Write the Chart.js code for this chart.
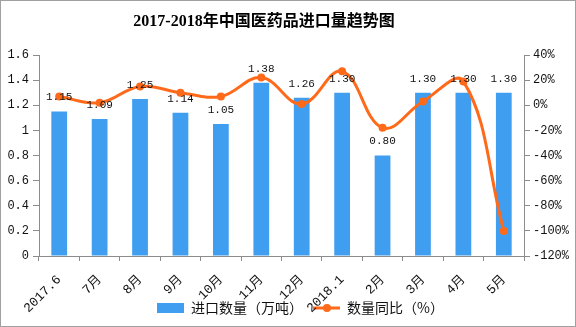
<!DOCTYPE html>
<html>
<head>
<meta charset="utf-8">
<script src="https://cdn.jsdelivr.net/npm/chart.js@4/dist/chart.umd.min.js"></script>
<style>
  html, body { margin: 0; padding: 0; background: #fff; }
  #wrap { width: 576px; height: 327px; }
</style>
</head>
<body>
<div id="wrap"><canvas id="chart"></canvas></div>
<script>
// 月份
const months = ['2017.6', '7月', '8月', '9月', '10月', '11月', '12月', '2018.1', '2月', '3月', '4月', '5月'];
// 进口数量（万吨）
const importVolume = [1.15, 1.09, 1.25, 1.14, 1.05, 1.38, 1.26, 1.30, 0.80, 1.30, 1.30, 1.30];
// 数量同比（%）
const yoyChange = [7, 2, 15, 10, 7, 22, 1, 27, -18, 3, 19, -100];

const leftAxis = { min: 0, max: 1.6, step: 0.2 };
const rightAxis = { min: -120, max: 40, step: 20 };

const blue = '#409ef0';
const orange = '#ff6a1a';
const axisGray = '#8c8c8c';
const monoFont = '"Liberation Mono", "Noto Sans CJK SC", monospace';
const cjkFont = '"Noto Sans CJK SC", sans-serif';

// 柱子上的数值
const barLabels = {
  id: 'barLabels',
  afterDatasetsDraw(chart) {
    const ctx = chart.ctx;
    const meta = chart.getDatasetMeta(0);
    ctx.save();
    ctx.font = '11px ' + monoFont;
    ctx.fillStyle = '#111';
    ctx.textAlign = 'center';
    ctx.textBaseline = 'middle';
    meta.data.forEach((bar, i) => {
      ctx.fillText(importVolume[i].toFixed(2), bar.x, bar.y - 14);
    });
    ctx.restore();
  }
};

// 外框 + 图例里折线的圆点 + 标题、图例的位置
const frame = {
  id: 'frame',
  afterLayout(chart) {
    chart.titleBlock.left = 0;
    chart.titleBlock.right = 528;
    // 斜着的月份标签会伸进图例那一行，不要被裁掉
    chart.scales.x.bottom = chart.height;
  },
  afterUpdate(chart) {
    const lg = chart.legend;
    if (!lg.legendHitBoxes.length) return;
    const d = 157 - lg.legendHitBoxes[0].left;
    lg.left += d;
    lg.right += d;
    lg.legendHitBoxes.forEach(h => { h.left += d; });
  },
  beforeDraw(chart) {
    const ctx = chart.ctx;
    ctx.save();
    ctx.fillStyle = '#fff';
    ctx.fillRect(0, 0, chart.width, chart.height);
    ctx.restore();
  },
  afterDraw(chart) {
    const ctx = chart.ctx;
    ctx.save();
    ctx.strokeStyle = '#a0a0a0';
    ctx.lineWidth = 1;
    ctx.strokeRect(0.5, 0.5, chart.width - 1, chart.height - 1);
    const box = chart.legend.legendHitBoxes[1];
    if (box) {
      ctx.fillStyle = orange;
      ctx.beginPath();
      ctx.arc(box.left + 14, box.top + box.height / 2, 4, 0, Math.PI * 2);
      ctx.fill();
    }
    ctx.restore();
  }
};

const ctx = document.getElementById('chart').getContext('2d');

new Chart(ctx, {
  type: 'bar',
  data: {
    labels: months,
    datasets: [
      {
        label: '进口数量（万吨）',
        data: importVolume,
        backgroundColor: blue,
        yAxisID: 'y',
        order: 1,
        barPercentage: 0.39,
        categoryPercentage: 1,
        pointStyle: 'rect'
      },
      {
        type: 'line',
        label: '数量同比（%）',
        data: yoyChange,
        borderColor: orange,
        backgroundColor: orange,
        borderWidth: 3,
        pointRadius: 4,
        pointBackgroundColor: orange,
        pointBorderWidth: 0,
        tension: 0.4,
        yAxisID: 'y1',
        order: 0
      }
    ]
  },
  options: {
    responsive: true,
    maintainAspectRatio: false,
    animation: false,
    layout: {
      padding: { top: 0, bottom: 2, left: 0, right: 0 }
    },
    plugins: {
      title: {
        display: true,
        text: '2017-2018年中国医药品进口量趋势图',
        color: '#000',
        font: { family: '"Liberation Serif", "Noto Sans CJK SC", serif', size: 16, weight: 'bold' },
        padding: { top: 12, bottom: 23.8 }
      },
      legend: {
        display: true,
        position: 'bottom',
        labels: {
          usePointStyle: true,
          pointStyleWidth: 27,
          boxHeight: 10,
          padding: 10,
          color: '#111',
          font: { family: cjkFont, size: 14 },
          sort: (a, b) => a.datasetIndex - b.datasetIndex,
          generateLabels(chart) {
            const items = Chart.defaults.plugins.legend.labels.generateLabels(chart);
            items.forEach(item => {
              if (item.datasetIndex === 1) {
                item.pointStyle = 'line';
                item.lineWidth = 3;
                item.strokeStyle = orange;
              } else {
                item.pointStyle = 'rect';
                item.lineWidth = 0;
              }
            });
            return items;
          }
        }
      },
      tooltip: {
        mode: 'index',
        intersect: false
      }
    },
    scales: {
      x: {
        grid: {
          display: true,
          drawOnChartArea: false,
          offset: true,
          tickLength: 5,
          color: axisGray
        },
        border: { color: axisGray },
        ticks: {
          autoSkip: false,
          maxRotation: 45,
          minRotation: 45,
          padding: 11,
          color: '#111',
          font: { family: monoFont, size: 13 }
        },
        afterFit(scale) {
          scale.height = 35;
        }
      },
      y: {
        position: 'left',
        min: leftAxis.min,
        max: leftAxis.max,
        grid: {
          drawOnChartArea: false,
          tickLength: 6,
          color: axisGray
        },
        border: { color: axisGray },
        ticks: {
          stepSize: leftAxis.step,
          padding: 4,
          color: '#111',
          font: { family: monoFont, size: 12 },
          callback: v => String(Number(v.toFixed(1)))
        },
        afterFit(scale) {
          scale.width = 39;
        }
      },
      y1: {
        position: 'right',
        min: rightAxis.min,
        max: rightAxis.max,
        grid: {
          drawOnChartArea: false,
          tickLength: 6,
          color: axisGray
        },
        border: { color: axisGray },
        ticks: {
          stepSize: rightAxis.step,
          padding: 3,
          color: '#111',
          font: { family: monoFont, size: 12 },
          callback: v => v + '%'
        },
        afterFit(scale) {
          scale.width = 52;
        }
      }
    }
  },
  plugins: [barLabels, frame]
});
</script>
</body>
</html>
